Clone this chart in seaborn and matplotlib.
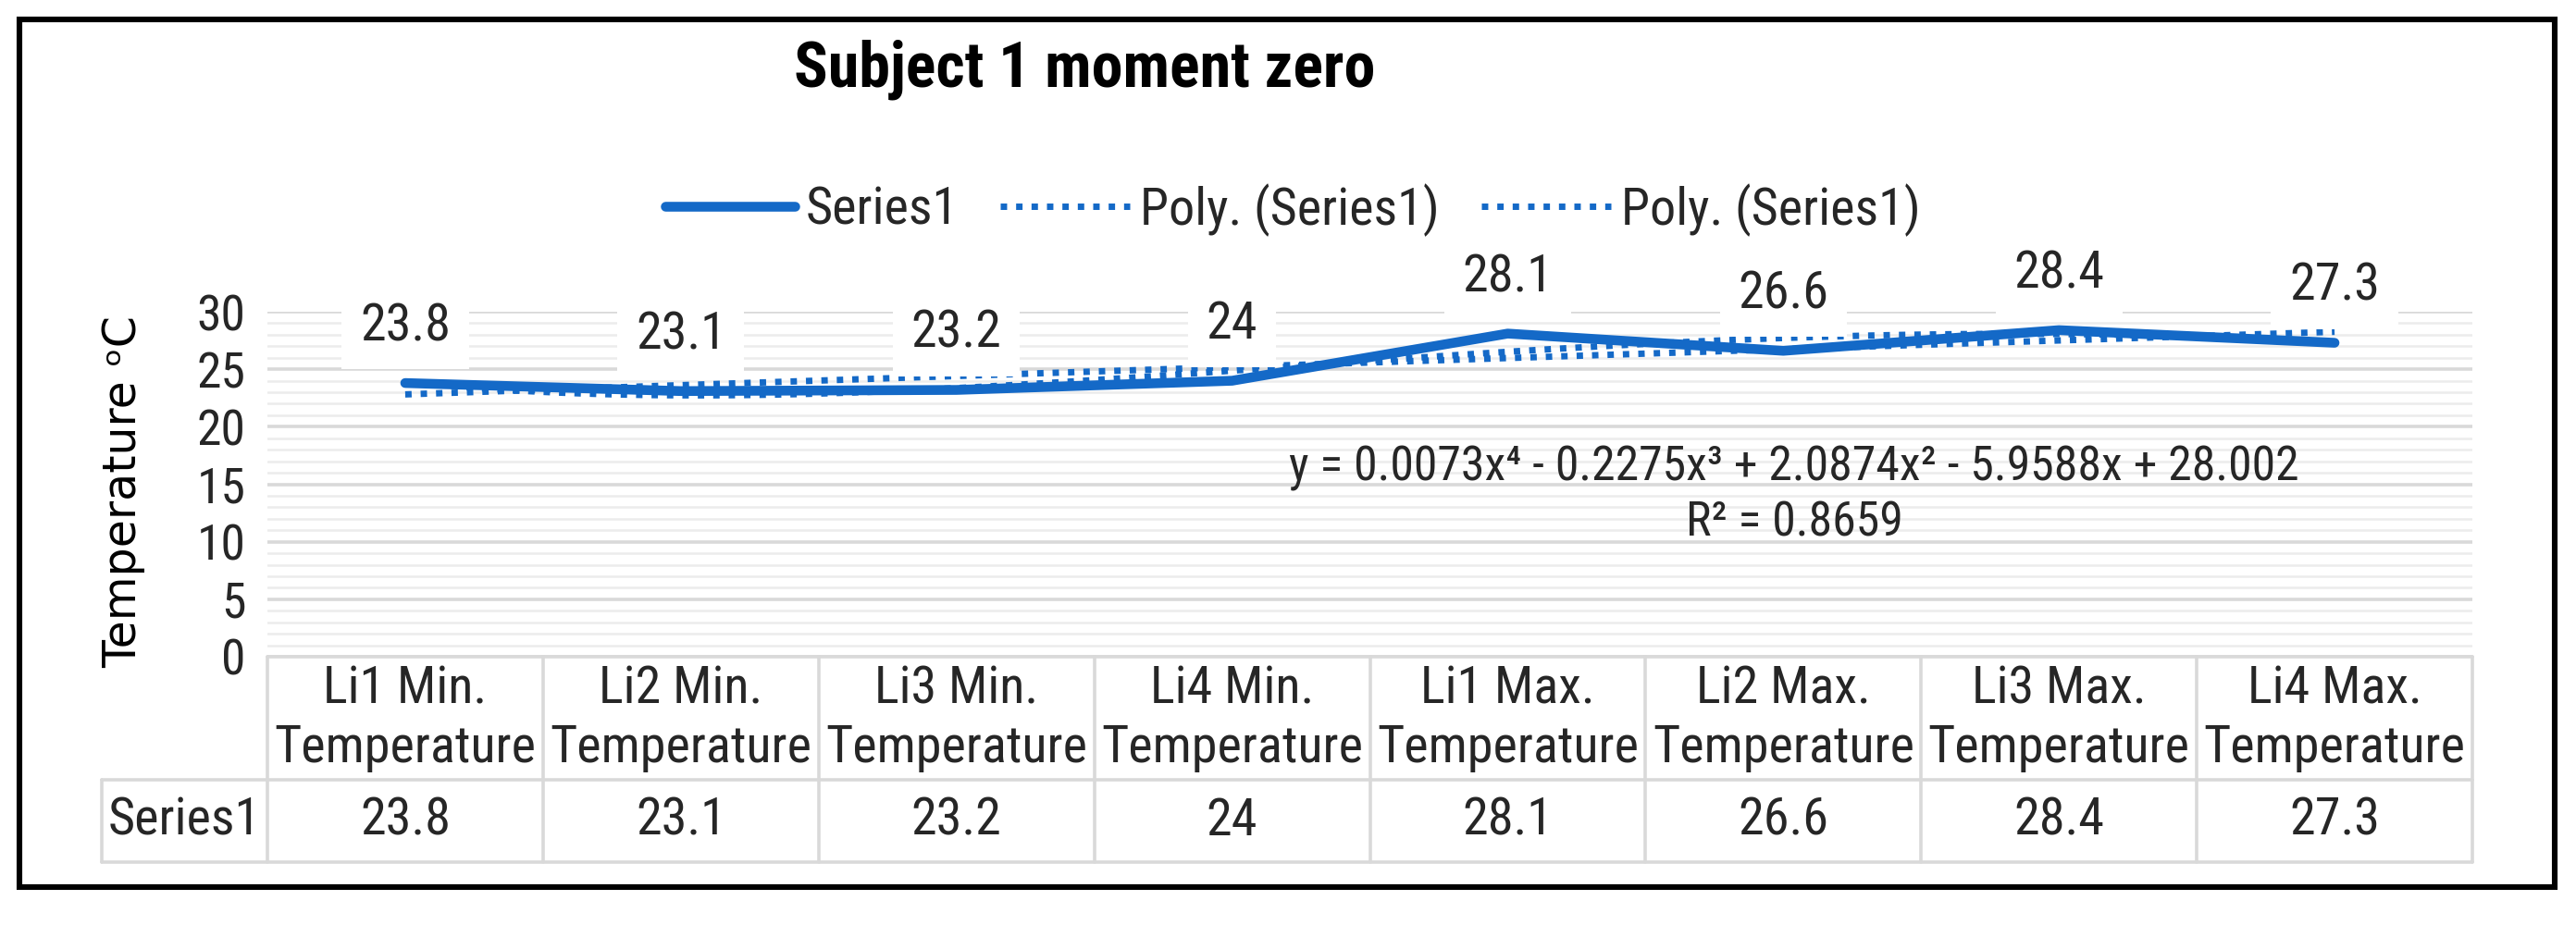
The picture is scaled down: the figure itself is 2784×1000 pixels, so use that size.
import numpy as np
import pandas as pd
import matplotlib
matplotlib.use("Agg")
import matplotlib.pyplot as plt
import matplotlib.transforms as mtransforms
from matplotlib.lines import Line2D
from matplotlib.patches import Rectangle
from matplotlib.ticker import MultipleLocator
from matplotlib import font_manager as fm
import seaborn as sns

# ---------------- data ----------------
title = "Subject 1 moment zero"
series_name = "Series1"
categories = ["Li1 Min.\nTemperature", "Li2 Min.\nTemperature", "Li3 Min.\nTemperature",
              "Li4 Min.\nTemperature", "Li1 Max.\nTemperature", "Li2 Max.\nTemperature",
              "Li3 Max.\nTemperature", "Li4 Max.\nTemperature"]
series1 = [23.8, 23.1, 23.2, 24, 28.1, 26.6, 28.4, 27.3]
value_labels = ["23.8", "23.1", "23.2", "24", "28.1", "26.6", "28.4", "27.3"]
y_ticks = [0, 5, 10, 15, 20, 25, 30]
trend_orders = [4, 2]
trend_names = ["Poly. (Series1)", "Poly. (Series1)"]
equation = "y = 0.0073x\u2074 - 0.2275x\u00b3 + 2.0874x\u00b2 - 5.9588x + 28.002"
r_squared = "R\u00b2 = 0.8659"
ylabel = "Temperature \u1d52C"

BLUE = "#1469C7"
GRID_MAJ = "#d9d9d9"
GRID_MIN = "#ececec"
TEXT = "#262626"

sns.set_theme(style="white")


# pick a narrow sans face (Calibri-like proportions) if one is installed
def pick_font():
    prefs = ["semicondensed", "narrow", "condensed"]
    regular = [f for f in fm.fontManager.ttflist
               if f.style == "normal" and f.weight in (400, "normal", "regular")]
    for key in prefs:
        for fam in ["Liberation Sans", "Noto Sans", "Roboto", "Open Sans", "DejaVu Sans", "Lato"]:
            for f in regular:
                fn = f.fname.lower().replace("-", "").replace("_", "")
                if key in fn and "extra" not in fn and "ultra" not in fn \
                        and "mono" not in fn and "serif" not in fn \
                        and fam.replace(" ", "").lower() in fn:
                    return f.name, f.stretch
    return "Noto Sans", "normal"


main_font, main_stretch = pick_font()
plt.rcParams["font.family"] = [main_font, "DejaVu Sans"]
plt.rcParams["font.stretch"] = main_stretch

# wide face for the y-axis title (Verdana-like)
dv_file = fm.findfont(fm.FontProperties(family="DejaVu Sans", stretch="normal",
                                        weight="normal", style="normal"))
W, H = 2784, 1000
fig = plt.figure(figsize=(W / 200, H / 200), dpi=200)
fig.patch.set_facecolor("white")
renderer = fig.canvas.get_renderer()


def fit_size(text, target_px, base=19.0, **kw):
    t = fig.text(0, 0, text, fontsize=base, **kw)
    w = t.get_window_extent(renderer).width
    t.remove()
    return base * target_px / w


body = min(max(fit_size("Temperature", 282), 15.0), 21.0)
title_size = min(max(fit_size(title, 629, fontweight="bold"), 19.0), 26.0)
eq_size = min(max(fit_size(equation, 1092), 15.0), 21.0)
tick_size = min(max(fit_size("30", 53), 14.0), 21.0)
yl_size = fit_size("Temperature", 310, fontproperties=fm.FontProperties(fname=dv_file))

ax_l, ax_r, ax_t, ax_b = 289, 2672, 337, 710
ax = fig.add_axes([ax_l / W, 1 - ax_b / H, (ax_r - ax_l) / W, (ax_b - ax_t) / H])

x = np.arange(1, len(series1) + 1)
df = pd.DataFrame({"x": x, "y": series1})

sns.lineplot(data=df, x="x", y="y", ax=ax, color=BLUE, linewidth=3.8,
             solid_capstyle="round", solid_joinstyle="round", zorder=4)
for order in trend_orders:
    sns.regplot(data=df, x="x", y="y", order=order, ci=None, scatter=False, ax=ax,
                truncate=True,
                line_kws=dict(color=BLUE, linewidth=2.5, linestyle=(0, (1, 1.4)), zorder=5))

ax.set_xlim(0.5, 8.5)
ax.set_ylim(0, 30)
ax.set_yticks(y_ticks)
ax.yaxis.set_minor_locator(MultipleLocator(1))
ax.set_xticks([])
ax.set_xlabel("")
ax.set_ylabel("")
for s in ax.spines.values():
    s.set_visible(False)
ax.set_axisbelow(True)
ax.grid(which="major", axis="y", color=GRID_MAJ, linewidth=1.3)
ax.grid(which="minor", axis="y", color=GRID_MIN, linewidth=0.9)
ax.grid(which="major", axis="x", visible=False)
ax.tick_params(axis="y", which="both", length=0, labelsize=tick_size, pad=8.5,
               labelcolor=TEXT)

# data labels
for xi, yi, lab in zip(x, series1, value_labels):
    ax.annotate(lab, (xi, yi), xytext=(0, 22), textcoords="offset points",
                ha="center", va="center", fontsize=body, color=TEXT,
                bbox=dict(boxstyle="square,pad=0.35", fc="white", ec="none"),
                annotation_clip=False, zorder=6)

# trendline equation
ax.text(6.04, 16.4, equation, ha="center", va="center", fontsize=eq_size, color=TEXT, zorder=6)
ax.text(6.04, 11.66, r_squared, ha="center", va="center", fontsize=eq_size, color=TEXT, zorder=6)

# data table
trans = mtransforms.blended_transform_factory(ax.transData, ax.transAxes)
y_h = -(843 - ax_b) / (ax_b - ax_t)
y_v = -(932 - ax_b) / (ax_b - ax_t)
x_left = 0.5 - (ax_l - 110) / ((ax_r - ax_l) / 8)
lkw = dict(color=GRID_MAJ, linewidth=1.3, transform=trans, clip_on=False)
ax.add_line(Line2D([0.5, 8.5], [0, 0], **lkw))
ax.add_line(Line2D([x_left, 8.5], [y_h, y_h], **lkw))
ax.add_line(Line2D([x_left, 8.5], [y_v, y_v], **lkw))
ax.add_line(Line2D([x_left, x_left], [y_v, y_h], **lkw))
for b in np.arange(0.5, 9.0, 1.0):
    ax.add_line(Line2D([b, b], [y_v, 0], **lkw))
for xi, cat, lab in zip(x, categories, value_labels):
    ax.text(xi, y_h / 2, cat, transform=trans, ha="center", va="center",
            fontsize=body, linespacing=1.25, color=TEXT, clip_on=False)
    ax.text(xi, (y_h + y_v) / 2, lab, transform=trans, ha="center", va="center",
            fontsize=body, color=TEXT, clip_on=False)
ax.text((x_left + 0.5) / 2, (y_h + y_v) / 2, series_name, transform=trans,
        ha="center", va="center", fontsize=body, color=TEXT, clip_on=False)

# legend
handles = [Line2D([], [], color=BLUE, linewidth=3.8, solid_capstyle="round")]
for _ in trend_orders:
    handles.append(Line2D([], [], color=BLUE, linewidth=2.5, linestyle=(0, (1, 1.4))))
fig.legend(handles, [series_name] + trend_names, loc="center",
           bbox_to_anchor=(0.502, 0.773), ncol=3, frameon=False, fontsize=body,
           handlelength=2.5, columnspacing=0.8, handletextpad=0.2, labelcolor=TEXT)

# title and y label
fig.text(1172 / W, 1 - 75 / H, title, ha="center", va="center",
         fontsize=title_size, fontweight="bold", color="black")
fig.text(133 / W, 1 - 532 / H, ylabel, rotation=90, ha="center", va="center",
         color="black", fontproperties=fm.FontProperties(fname=dv_file, size=yl_size))

# outer border
fig.patches.append(Rectangle((21 / W, 1 - 959 / H), (2761 - 21) / W, (959 - 21) / H,
                             transform=fig.transFigure, fill=False, ec="black", lw=2.2))

fig.savefig("out.png", dpi=200, facecolor="white")
